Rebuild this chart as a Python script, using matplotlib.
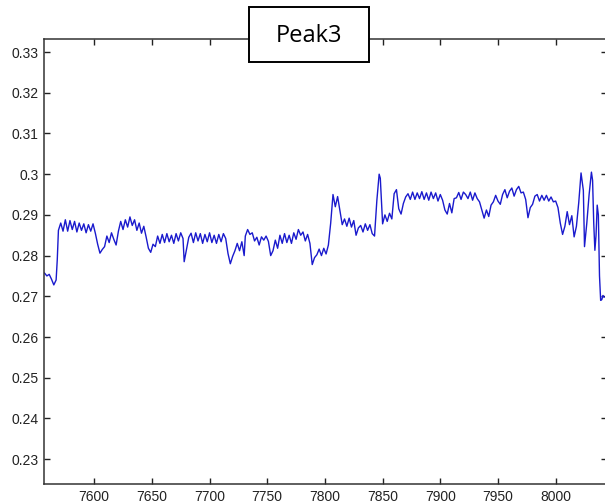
import numpy as np
import matplotlib
matplotlib.use("Agg")
import matplotlib.pyplot as plt
from matplotlib.patches import Rectangle
from matplotlib.ticker import FixedLocator, FuncFormatter

# sample index and measured ratio around peak 3
x = [7557, 7559, 7561, 7563, 7565, 7567, 7568, 7569, 7571, 7573, 7575, 7577,
     7579, 7581, 7583, 7585, 7587, 7589, 7591, 7593, 7595, 7597, 7599, 7601,
     7603, 7605, 7607, 7609, 7611, 7613, 7615, 7617, 7619, 7621, 7623, 7625,
     7627, 7629, 7631, 7633, 7635, 7637, 7639, 7641, 7643, 7645, 7647, 7649,
     7651, 7653, 7655, 7657, 7659, 7661, 7663, 7665, 7667, 7669, 7671, 7673,
     7675, 7677, 7678, 7680, 7682, 7684, 7686, 7688, 7690, 7692, 7694, 7696,
     7698, 7700, 7702, 7704, 7706, 7708, 7710, 7712, 7714, 7716, 7718, 7720,
     7722, 7724, 7726, 7728, 7730, 7731, 7733, 7735, 7737, 7739, 7741, 7743,
     7745, 7747, 7749, 7751, 7753, 7755, 7757, 7759, 7761, 7763, 7765, 7767,
     7769, 7771, 7773, 7775, 7777, 7779, 7781, 7783, 7785, 7787, 7789, 7791,
     7793, 7795, 7797, 7799, 7801, 7803, 7805, 7807, 7809, 7811, 7813, 7815,
     7817, 7819, 7821, 7823, 7825, 7827, 7829, 7831, 7833, 7835, 7837, 7839,
     7841, 7843, 7845, 7847, 7848, 7850, 7852, 7854, 7856, 7858, 7860, 7862,
     7864, 7866, 7868, 7870, 7872, 7874, 7876, 7878, 7880, 7882, 7884, 7886,
     7888, 7890, 7892, 7894, 7896, 7898, 7900, 7902, 7904, 7906, 7908, 7910,
     7912, 7914, 7916, 7918, 7920, 7922, 7924, 7926, 7928, 7930, 7932, 7934,
     7936, 7938, 7940, 7942, 7944, 7946, 7948, 7950, 7952, 7954, 7956, 7958,
     7960, 7962, 7964, 7966, 7968, 7970, 7972, 7974, 7976, 7978, 7980, 7982,
     7984, 7986, 7988, 7990, 7992, 7994, 7996, 7998, 8000, 8002, 8004, 8006,
     8008, 8010, 8012, 8014, 8016, 8018, 8020, 8022, 8024, 8025, 8027, 8029,
     8031, 8032, 8033, 8034, 8035, 8036, 8037, 8038, 8039, 8040, 8041, 8042]

y = [0.2757, 0.2750, 0.2754, 0.2742, 0.2728, 0.2740, 0.2790, 0.2862, 0.2880, 0.2860, 0.2888, 0.2860,
     0.2886, 0.2864, 0.2884, 0.2858, 0.2880, 0.2862, 0.2878, 0.2856, 0.2876, 0.2860, 0.2878, 0.2855,
     0.2828, 0.2806, 0.2815, 0.2822, 0.2848, 0.2832, 0.2856, 0.2840, 0.2826, 0.2860, 0.2884, 0.2864,
     0.2888, 0.2870, 0.2895, 0.2874, 0.2888, 0.2862, 0.2880, 0.2855, 0.2872, 0.2846, 0.2818, 0.2808,
     0.2828, 0.2822, 0.2848, 0.2830, 0.2852, 0.2832, 0.2854, 0.2834, 0.2850, 0.2830, 0.2854, 0.2836,
     0.2856, 0.2842, 0.2785, 0.2815, 0.2845, 0.2855, 0.2832, 0.2856, 0.2836, 0.2854, 0.2830, 0.2852,
     0.2834, 0.2856, 0.2832, 0.2850, 0.2830, 0.2852, 0.2834, 0.2854, 0.2842, 0.2805, 0.2780, 0.2798,
     0.2812, 0.2830, 0.2812, 0.2834, 0.2800, 0.2848, 0.2864, 0.2852, 0.2856, 0.2836, 0.2845, 0.2826,
     0.2846, 0.2838, 0.2848, 0.2835, 0.2800, 0.2812, 0.2838, 0.2818, 0.2850, 0.2830, 0.2854, 0.2832,
     0.2850, 0.2830, 0.2856, 0.2840, 0.2864, 0.2850, 0.2858, 0.2836, 0.2852, 0.2830, 0.2778, 0.2795,
     0.2802, 0.2816, 0.2800, 0.2818, 0.2804, 0.2826, 0.2880, 0.2950, 0.2920, 0.2945, 0.2910, 0.2876,
     0.2890, 0.2872, 0.2892, 0.2870, 0.2886, 0.2850, 0.2868, 0.2874, 0.2858, 0.2878, 0.2862, 0.2876,
     0.2854, 0.2848, 0.2935, 0.3000, 0.2990, 0.2878, 0.2900, 0.2884, 0.2904, 0.2890, 0.2952, 0.2962,
     0.2915, 0.2902, 0.2928, 0.2944, 0.2952, 0.2938, 0.2956, 0.2938, 0.2954, 0.2940, 0.2957, 0.2938,
     0.2954, 0.2936, 0.2956, 0.2940, 0.2954, 0.2934, 0.2950, 0.2936, 0.2912, 0.2902, 0.2928, 0.2905,
     0.2940, 0.2942, 0.2955, 0.2938, 0.2956, 0.2950, 0.2940, 0.2956, 0.2936, 0.2954, 0.2940, 0.2932,
     0.2912, 0.2892, 0.2912, 0.2896, 0.2924, 0.2932, 0.2948, 0.2934, 0.2926, 0.2950, 0.2962, 0.2942,
     0.2958, 0.2966, 0.2946, 0.2962, 0.2970, 0.2954, 0.2956, 0.2938, 0.2893, 0.2918, 0.2926, 0.2946,
     0.2950, 0.2934, 0.2948, 0.2936, 0.2948, 0.2934, 0.2944, 0.2932, 0.2934, 0.2918, 0.2880, 0.2852,
     0.2872, 0.2908, 0.2876, 0.2898, 0.2846, 0.2872, 0.2930, 0.3003, 0.2960, 0.2822, 0.2880, 0.2950,
     0.3005, 0.2985, 0.2880, 0.2813, 0.2850, 0.2924, 0.2900, 0.2750, 0.2690, 0.2692, 0.2702, 0.2698]

xticks = [7600, 7650, 7700, 7750, 7800, 7850, 7900, 7950, 8000]
yticks = [0.23, 0.24, 0.25, 0.26, 0.27, 0.28, 0.29, 0.30, 0.31, 0.32, 0.33]
title = "Peak3"

W, H = 605, 504
fig = plt.figure(figsize=(W / 100, H / 100), dpi=100)
ax = fig.add_axes([44 / W, 1 - 484 / H, 563 / W, 445 / H])

ax.plot(x, y, color="#1a1acd", lw=1.0)

ax.set_xlim(7556.5, 8044.5)
ax.set_ylim(0.2239, 0.3332)

ax.xaxis.set_major_locator(FixedLocator(xticks))
ax.yaxis.set_major_locator(FixedLocator(yticks))
ax.yaxis.set_major_formatter(FuncFormatter(lambda v, p: "%g" % round(v, 4)))
ax.xaxis.set_major_formatter(FuncFormatter(lambda v, p: "%d" % v))

ax.tick_params(direction="in", length=4.5, width=1, top=True, right=True,
               labelsize=10, colors="#222222", pad=4)
for lab in ax.get_xticklabels() + ax.get_yticklabels():
    lab.set_fontfamily("Liberation Sans")
for s in ax.spines.values():
    s.set_linewidth(1.1)
    s.set_color("#333333")

# boxed label sitting over the top edge
bx0, by0, bw, bh = 249, 7, 120, 55
fig.patches.append(Rectangle((bx0 / W, 1 - (by0 + bh) / H), bw / W, bh / H,
                             transform=fig.transFigure, facecolor="white",
                             edgecolor="black", linewidth=1.4, zorder=5))
fig.text((bx0 + bw / 2) / W, 1 - (by0 + bh / 2 + 1) / H, title,
         ha="center", va="center", fontsize=17, family="Open Sans", zorder=6)

fig.savefig("out.png", dpi=100)
